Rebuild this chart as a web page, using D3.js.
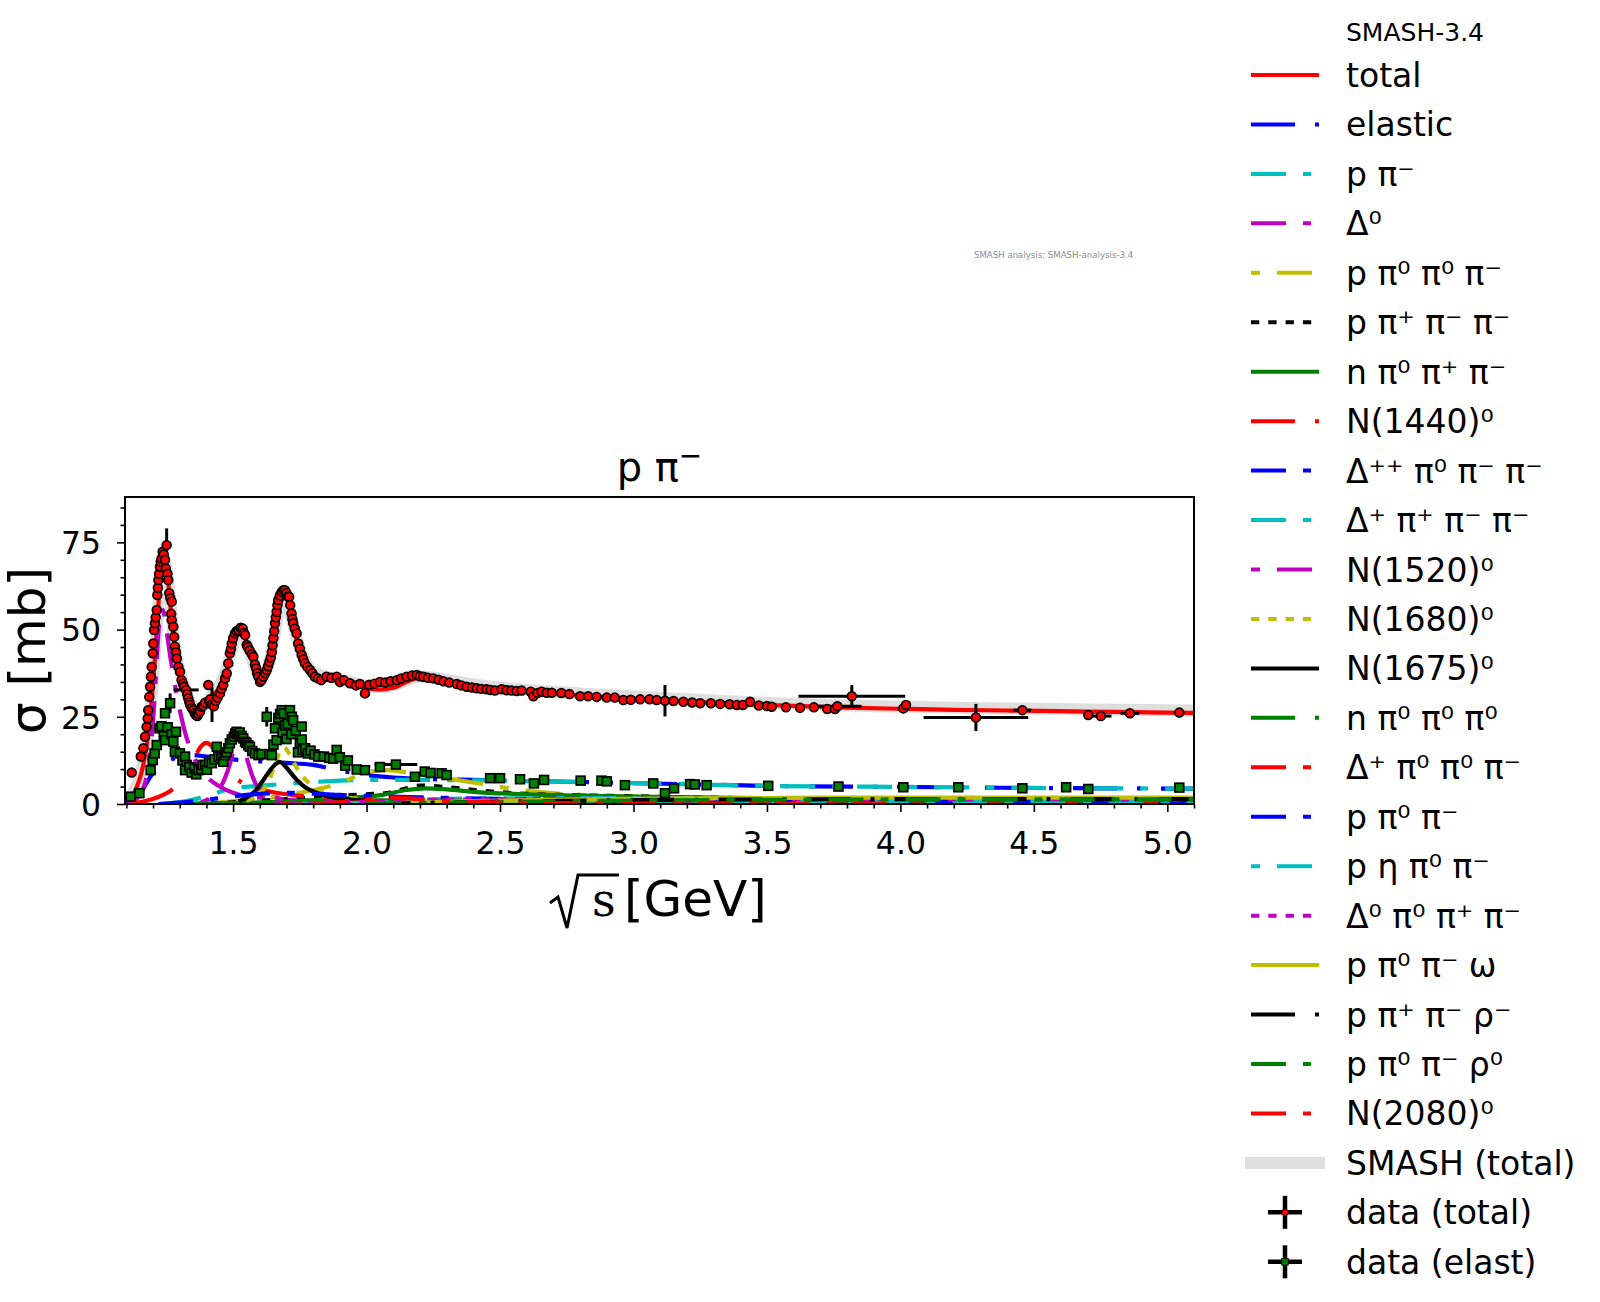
<!DOCTYPE html>
<html>
<head>
<meta charset="utf-8">
<title>p π⁻ cross sections</title>
<script src="https://cdn.jsdelivr.net/npm/d3@7"></script>
<style>
  body { margin: 0; background: #fff; }
  svg { display: block; font-family: "DejaVu Sans", sans-serif; }
</style>
</head>
<body>
<div id="main"></div>
<script>
const width = 1600;
const height = 1302;
const plot = { left: 125, right: 1194, top: 497, bottom: 804 };

const xDomain = [1.095, 5.10];
const yDomain = [0, 88];
const xTicks = [1.5, 2.0, 2.5, 3.0, 3.5, 4.0, 4.5, 5.0];
const yTicks = [0, 25, 50, 75];

const plotTitle = "p π";
const legendTitle = "SMASH-3.4";
const versionNote = "SMASH analysis: SMASH-analysis-3.4";

// model curves, [sqrt(s) GeV, sigma mb]
const totalCurve = [[1.10,0.5],[1.12,2],[1.14,5],[1.16,10],[1.18,19],[1.195,30],[1.21,45],[1.22,57],[1.23,66],[1.238,70.5],[1.245,70],[1.255,65],[1.265,57],[1.275,49],[1.29,41],[1.31,35],[1.33,30.5],[1.35,27.5],[1.37,26.5],[1.39,27.5],[1.41,29.5],[1.43,31.5],[1.45,33.5],[1.47,37],[1.49,42.5],[1.51,47.5],[1.525,49.5],[1.54,48.5],[1.56,44],[1.58,39],[1.60,36],[1.62,37],[1.64,41.5],[1.66,50],[1.68,58],[1.69,60],[1.705,58.5],[1.72,53],[1.74,46.5],[1.76,42],[1.78,39],[1.80,37.5],[1.85,36],[1.90,35.3],[1.95,34.3],[2.00,33.2],[2.05,32.8],[2.10,33.3],[2.15,35],[2.20,36.2],[2.25,36],[2.30,35.2],[2.40,33.8],[2.50,32.8],[2.60,32.1],[2.80,31.1],[3.00,30.2],[3.20,29.4],[3.40,28.7],[3.60,28.1],[3.80,27.6],[4.00,27.3],[4.20,27.0],[4.40,26.8],[4.60,26.6],[4.80,26.4],[5.00,26.2],[5.10,26.1]];
const smashTotalCurve = [[1.10,0.8],[1.12,2.5],[1.14,5.5],[1.16,11],[1.18,20],[1.195,31],[1.21,46],[1.22,57.5],[1.23,66],[1.238,70],[1.245,69.5],[1.255,65],[1.265,58],[1.275,50],[1.29,42],[1.31,35.5],[1.33,31],[1.35,28],[1.37,27],[1.39,28],[1.41,30],[1.43,32],[1.45,34],[1.47,37.5],[1.49,43],[1.51,47.5],[1.525,49],[1.54,48],[1.56,44],[1.58,39.5],[1.60,36.5],[1.62,37.5],[1.64,42],[1.66,50.5],[1.68,58],[1.69,59.5],[1.705,58],[1.72,53],[1.74,47],[1.76,42.5],[1.78,39.5],[1.80,38],[1.85,36.5],[1.90,35.8],[1.95,34.8],[2.00,33.8],[2.05,33.5],[2.10,34],[2.15,35.5],[2.20,36.5],[2.25,36.3],[2.30,35.6],[2.40,34.3],[2.50,33.4],[2.60,32.7],[2.80,31.7],[3.00,30.8],[3.20,30.0],[3.40,29.3],[3.60,28.7],[3.80,28.2],[4.00,27.9],[4.20,27.6],[4.40,27.4],[4.60,27.2],[4.80,27.0],[5.00,26.9],[5.10,26.8]];
const elasticCurve = [[1.10,0.2],[1.13,1.5],[1.16,4],[1.19,7.8],[1.22,10.5],[1.26,12.5],[1.30,13.5],[1.35,14],[1.40,13.6],[1.45,13.2],[1.50,12.8],[1.60,12.2],[1.70,11.8],[1.80,11.2],[1.90,9.6],[2.00,8.3],[2.10,7.6],[2.20,7.2],[2.35,7.0],[2.50,6.8],[2.80,6.3],[3.00,6.0],[3.30,5.5],[3.50,5.2],[4.00,4.9],[4.50,4.6],[5.10,4.4]];
const pPimCurve = [[1.25,0.2],[1.32,0.8],[1.40,2.2],[1.45,3.5],[1.50,4.5],[1.60,5.2],[1.70,5.8],[1.80,6.3],[1.90,6.7],[2.00,6.9],[2.20,6.9],[2.50,6.7],[2.80,6.3],[3.00,6.0],[3.30,5.5],[3.50,5.2],[4.00,4.9],[4.50,4.6],[5.10,4.4]];
const delta0Curve = [[1.10,0.2],[1.13,1],[1.15,2.5],[1.17,6],[1.185,12],[1.20,24],[1.21,36],[1.22,49],[1.23,56],[1.24,55],[1.25,50],[1.265,42],[1.28,35],[1.30,27],[1.32,20.5],[1.35,14],[1.40,8],[1.45,5],[1.50,3.2],[1.60,1.8],[1.80,0.9],[2.00,0.5],[2.50,0.2],[3.00,0.1],[5.10,0.03]];
const pPi0Pi0PimCurve = [[1.35,0],[1.45,0.5],[1.60,1.5],[1.75,3.2],[1.90,6],[2.00,9],[2.08,9.7],[2.16,8.9],[2.25,7.9],[2.33,7.0],[2.46,5.4],[2.55,4.3],[2.65,3.4],[2.85,2.5],[3.00,2.2],[3.30,1.7],[3.60,1.4],[4.00,1.2],[4.50,1.0],[5.10,0.8]];
const pPipPimPimCurve = [[1.35,0],[1.50,0.5],[1.70,1.4],[1.90,2.4],[2.00,2.8],[2.075,3.1],[2.14,4.3],[2.20,5.3],[2.30,4.8],[2.46,3.6],[2.60,2.9],[2.80,2.5],[3.00,2.2],[3.50,1.6],[4.00,1.3],[5.10,1.0]];
const nPi0PipPimCurve = [[1.35,0],[1.55,0.3],[1.75,0.9],[1.95,1.8],[2.06,2.6],[2.15,4.0],[2.22,4.5],[2.30,4.2],[2.40,3.5],[2.55,2.9],[2.80,2.4],[3.00,2.1],[3.50,1.7],[4.00,1.4],[5.10,1.0]];
const n1440Curve = [[1.12,0.2],[1.18,1],[1.22,2],[1.26,3.5],[1.30,6],[1.33,9.5],[1.36,14],[1.38,16.5],[1.40,17.5],[1.42,16.5],[1.44,14],[1.47,10.5],[1.50,8],[1.55,5.5],[1.60,4.2],[1.70,2.8],[1.80,2],[1.90,1.5],[2.00,1.1],[2.50,0.5],[3.00,0.25],[4.00,0.1],[5.10,0.05]];
const deltaPPPi0PimPimCurve = [[1.65,0],[1.80,0.2],[2.00,0.6],[2.20,1.0],[2.50,1.3],[3.00,1.4],[3.50,1.35],[4.00,1.25],[5.10,1.05]];
const deltaPPipPimPimCurve = [[1.65,0],[1.80,0.3],[2.00,0.8],[2.20,1.3],[2.50,1.6],[3.00,1.7],[3.50,1.6],[4.00,1.5],[5.10,1.25]];
const n1520Curve = [[1.38,0.5],[1.42,2],[1.45,4.5],[1.47,7.5],[1.49,12],[1.505,16.5],[1.515,19],[1.525,19.5],[1.535,18],[1.55,13.5],[1.57,8.5],[1.59,5],[1.62,3],[1.66,1.8],[1.72,1.1],[1.80,0.7],[2.00,0.35],[2.50,0.1],[3.00,0.05]];
const n1680Curve = [[1.55,1],[1.60,3],[1.63,6],[1.655,11],[1.675,15],[1.69,16.2],[1.71,14.5],[1.73,11.5],[1.76,8],[1.80,5],[1.85,3.2],[1.90,2.2],[2.00,1.3],[2.20,0.6],[2.60,0.2],[3.00,0.1]];
const n1675Curve = [[1.52,0.8],[1.55,1.8],[1.58,3.5],[1.61,6.5],[1.64,9.8],[1.66,11.5],[1.675,12.1],[1.69,11.3],[1.71,9.5],[1.74,6.8],[1.77,4.8],[1.80,3.6],[1.85,2.3],[1.90,1.6],[2.00,0.9],[2.20,0.4],[2.60,0.15],[3.00,0.08]];
const nPi0Pi0Pi0Curve = [[1.35,0],[1.50,0.2],[1.70,0.5],[1.90,0.8],[2.10,1.0],[2.40,1.0],[3.00,0.8],[4.00,0.6],[5.10,0.5]];
const deltaPPi0Pi0PimCurve = [[1.65,0],[1.80,0.2],[2.00,0.5],[2.20,0.8],[2.50,1.0],[3.00,1.1],[4.00,1.0],[5.10,0.85]];
const pPi0PimCurve = [[1.22,0],[1.30,0.4],[1.40,1.2],[1.50,2.2],[1.60,2.9],[1.70,3.2],[1.80,3.0],[1.90,2.6],[2.00,2.3],[2.20,1.9],[2.50,1.5],[3.00,1.2],[4.00,0.9],[5.10,0.75]];
const pEtaPi0PimCurve = [[1.76,0],[1.90,0.2],[2.10,0.5],[2.40,0.8],[2.80,0.95],[3.50,0.9],[4.50,0.8],[5.10,0.75]];
const delta0Pi0PipPimCurve = [[1.65,0],[1.80,0.2],[2.00,0.7],[2.20,1.1],[2.50,1.4],[3.00,1.5],[3.50,1.45],[4.50,1.3],[5.10,1.2]];
const pPi0PimOmegaCurve = [[2.00,0],[2.15,0.3],[2.40,0.8],[2.80,1.3],[3.20,1.6],[3.80,1.8],[4.50,1.85],[5.10,1.8]];
const pPipPimRhoMCurve = [[2.00,0],[2.20,0.3],[2.50,0.7],[3.00,1.1],[3.50,1.3],[4.00,1.4],[5.10,1.4]];
const pPi0PimRho0Curve = [[2.00,0],[2.20,0.25],[2.50,0.6],[3.00,1.0],[3.50,1.2],[4.00,1.3],[5.10,1.3]];
const n2080Curve = [[1.80,0.1],[1.90,0.5],[2.00,1.2],[2.08,1.8],[2.15,1.7],[2.25,1.1],[2.40,0.6],[2.70,0.25],[3.00,0.12],[4.00,0.04]];

const channelLabels = ["total", "elastic", "p π⁻", "Δ⁰", "p π⁰ π⁰ π⁻", "p π⁺ π⁻ π⁻",
  "n π⁰ π⁺ π⁻", "N(1440)⁰", "Δ⁺⁺ π⁰ π⁻ π⁻", "Δ⁺ π⁺ π⁻ π⁻", "N(1520)⁰", "N(1680)⁰",
  "N(1675)⁰", "n π⁰ π⁰ π⁰", "Δ⁺ π⁰ π⁰ π⁻", "p π⁰ π⁻", "p η π⁰ π⁻", "Δ⁰ π⁰ π⁺ π⁻",
  "p π⁰ π⁻ ω", "p π⁺ π⁻ ρ⁻", "p π⁰ π⁻ ρ⁰", "N(2080)⁰"];
const channelCurves = [totalCurve, elasticCurve, pPimCurve, delta0Curve, pPi0Pi0PimCurve,
  pPipPimPimCurve, nPi0PipPimCurve, n1440Curve, deltaPPPi0PimPimCurve, deltaPPipPimPimCurve,
  n1520Curve, n1680Curve, n1675Curve, nPi0Pi0Pi0Curve, deltaPPi0Pi0PimCurve, pPi0PimCurve,
  pEtaPi0PimCurve, delta0Pi0PipPimCurve, pPi0PimOmegaCurve, pPipPimRhoMCurve,
  pPi0PimRho0Curve, n2080Curve];

// measured data, [sqrt(s), sigma, yerr, xerr]
const totalData = [[1.120,9.0],[1.154,13.6],[1.164,16.0],[1.170,19.3],[1.176,22.1],[1.180,24.5],[1.182,26.9],[1.186,30.7],[1.189,33.6],[1.192,36.5],[1.195,39.3],[1.199,43.2],[1.201,46.0],[1.204,49.9],[1.207,51.8],[1.210,53.5],[1.214,55.6],[1.216,59.9],[1.218,62.0],[1.220,64.2],[1.223,66.0],[1.226,68.0],[1.229,69.5],[1.232,70.4],[1.236,72.3],[1.240,71.5],[1.245,70.0],[1.251,74.2,4.8],[1.248,67.5],[1.254,66.0],[1.257,64.2],[1.261,60.4],[1.265,59.0],[1.270,58.0],[1.268,54.5],[1.270,52.7],[1.276,50.8],[1.279,47.9],[1.282,45.1],[1.286,43.5],[1.289,41.7],[1.295,39.3],[1.301,37.9],[1.307,35.5],[1.312,34.5],[1.316,33.6],[1.324,32.7,0,0.047],[1.328,31.5],[1.332,30.3],[1.336,29.2],[1.339,28.4],[1.345,27.5],[1.351,26.9],[1.356,26.0],[1.361,25.5],[1.366,25.2],[1.370,25.8],[1.376,26.5],[1.382,27.9],[1.388,28.2],[1.395,29.0],[1.407,34.1],[1.410,29.5],[1.414,30.0],[1.421,28.5,5],[1.428,28.0],[1.435,29.5],[1.442,30.5],[1.451,31.7],[1.457,33.0],[1.463,34.1],[1.470,36.0],[1.476,37.4],[1.482,40.3],[1.488,43.2],[1.492,44.5],[1.495,46.0],[1.500,47.5],[1.507,48.9],[1.513,49.5],[1.520,49.9],[1.528,50.5],[1.536,50.3],[1.541,49.0],[1.545,48.4],[1.551,45.6],[1.555,45.0],[1.562,44.0],[1.570,43.0],[1.576,42.2],[1.582,40.0],[1.586,38.9],[1.590,37.5],[1.595,36.5],[1.601,35.0],[1.607,35.5],[1.613,36.5],[1.620,37.5],[1.626,38.4],[1.631,39.5],[1.636,40.8],[1.641,42.0],[1.645,43.6],[1.648,45.5],[1.651,47.5],[1.654,49.5],[1.657,51.8],[1.660,53.5],[1.663,55.1],[1.666,57.0],[1.669,58.5],[1.675,59.8],[1.682,60.8],[1.688,61.3],[1.694,61.3],[1.700,60.5],[1.705,59.5],[1.710,59.4],[1.714,57.0],[1.719,54.6],[1.722,53.0],[1.725,51.8],[1.731,50.3],[1.738,48.9],[1.744,46.0],[1.750,44.5],[1.757,42.7],[1.763,41.5],[1.769,40.3],[1.778,39.3],[1.788,38.4],[1.797,37.5],[1.806,36.5],[1.818,36.0],[1.830,35.5],[1.850,36.5],[1.868,36.2],[1.888,36.5],[1.900,35.0,1.5],[1.915,35.5],[1.938,34.6],[1.960,34.0],[1.975,34.4],[1.994,31.7],[2.010,34.2],[2.030,34.5],[2.050,35.0],[2.070,34.8],[2.090,35.2],[2.113,35.5],[2.130,36.0],[2.150,36.5],[2.170,36.8],[2.188,37.0],[2.200,36.6],[2.213,36.5],[2.230,36.2],[2.250,36.0],[2.270,35.6],[2.288,35.2],[2.310,34.8],[2.338,34.4],[2.355,34.0],[2.375,33.6],[2.395,33.4],[2.413,33.2],[2.430,33.0],[2.450,32.9],[2.465,32.7],[2.481,32.5],[2.506,32.9],[2.525,32.6],[2.543,32.5],[2.562,32.4],[2.581,32.5],[2.615,32.2],[2.625,30.9],[2.640,31.8],[2.656,32.2],[2.675,31.9],[2.694,31.9],[2.730,31.8],[2.760,31.5],[2.800,30.9],[2.830,30.9],[2.862,30.7],[2.900,30.5],[2.930,30.5],[2.962,29.8],[2.990,29.9],[3.025,30.0],[3.060,30.0],[3.087,29.8],[3.118,29.6,4.5],[3.150,29.5],[3.187,29.3],[3.220,29.1],[3.250,28.9],[3.290,28.9],[3.325,28.7],[3.360,28.6],[3.387,28.4],[3.410,28.4],[3.437,29.3],[3.470,28.2],[3.500,28.1],[3.518,27.9],[3.571,27.7],[3.624,27.6],[3.676,27.7],[3.726,27.2],[3.755,27.2],[3.764,28.0,0,0.09],[3.818,30.9,3.2,0.2],[4.011,27.4],[4.021,28.4],[4.283,24.8,3.9,0.196],[4.457,26.9,0,0.033],[4.704,25.5],[4.751,25.2,0,0.04],[4.860,26.0,0,0.035],[5.045,26.2]];
const elasticData = [[1.116,2.1],[1.149,3.1],[1.191,9.7],[1.199,12.6],[1.206,14.5],[1.214,16.9],[1.224,21.7],[1.232,22.3],[1.240,19.5],[1.245,18.3],[1.245,26.0],[1.264,28.9,2.8],[1.255,22.0],[1.270,20.0],[1.276,17.9],[1.282,15.0],[1.286,20.7],[1.301,14.5],[1.310,12.5],[1.320,13.6],[1.326,11.2],[1.320,9.7],[1.336,10.6],[1.345,9.0],[1.355,10.2],[1.362,8.5],[1.370,9.7],[1.380,10.0],[1.385,11.2],[1.395,11.2],[1.402,9.8],[1.410,12.0],[1.420,11.7],[1.430,12.8],[1.439,16.4],[1.445,13.5],[1.455,13.0],[1.463,12.1],[1.470,14.0],[1.475,14.8],[1.482,16.0],[1.488,17.4],[1.495,18.5],[1.503,19.3],[1.508,20.2],[1.513,20.7],[1.520,20.0],[1.525,20.5],[1.532,19.5],[1.538,18.8],[1.545,17.8],[1.550,17.5],[1.557,16.8],[1.563,16.4],[1.572,15.2],[1.582,14.5],[1.595,14.0],[1.607,14.3],[1.626,25.0,2.8],[1.635,14.3],[1.645,14.0],[1.651,17.0],[1.657,21.7],[1.663,18.3],[1.669,24.7],[1.676,25.8],[1.682,26.9],[1.685,20.5],[1.690,26.0],[1.695,22.5],[1.700,18.6],[1.705,23.0],[1.713,26.9],[1.718,20.0],[1.720,25.0],[1.725,24.0],[1.735,21.0],[1.743,14.8],[1.750,17.5],[1.757,22.2],[1.757,18.5],[1.760,15.5],[1.770,16.0],[1.780,14.5],[1.790,15.3],[1.805,14.2],[1.819,13.6],[1.840,13.6],[1.860,13.2],[1.875,13.0],[1.888,15.5],[1.900,13.4],[1.920,11.0],[1.930,12.5],[1.963,9.9],[1.994,9.7],[2.050,10.6],[2.110,11.3,1.2,0.08],[2.181,7.8],[2.218,9.3],[2.240,8.9],[2.281,8.8],[2.300,8.3],[2.463,7.4],[2.500,7.4],[2.575,7.1],[2.627,5.9],[2.665,6.9],[2.802,6.7],[2.880,6.7],[2.900,6.5],[2.968,5.4],[3.074,5.9],[3.118,3.1],[3.152,4.5],[3.212,5.7],[3.230,5.6],[3.274,5.4],[3.505,5.2],[3.768,5.0],[4.011,4.8],[4.217,4.8],[4.457,4.5],[4.621,4.8],[4.704,4.3],[5.045,4.7]];

const colorCycle = ["#ff0000", "#0000ff", "#00bfbf", "#bf00bf", "#bfbf00", "#000000", "#008000"];
const dashCycle = [null, "44 20 4 20", "35 17 8 17", "35 17 8 17", "9 17 35 17", "8.3 9"];

const svg = d3
    .select("#main")
    .append("svg")
    .attr("width", width)
    .attr("height", height);

const x = d3.scaleLinear().domain(xDomain).range([plot.left, plot.right]);
const y = d3.scaleLinear().domain(yDomain).range([plot.bottom, plot.top]);

svg.append("clipPath")
    .attr("id", "plot-clip")
    .append("rect")
    .attr("x", plot.left)
    .attr("y", plot.top)
    .attr("width", plot.right - plot.left)
    .attr("height", plot.bottom - plot.top);

const line = d3.line()
    .x(d => x(d[0]))
    .y(d => y(d[1]))
    .curve(d3.curveMonotoneX);

const area = svg.append("g").attr("clip-path", "url(#plot-clip)");

// grey SMASH band drawn underneath everything
area.append("path")
    .datum(smashTotalCurve)
    .attr("d", line)
    .attr("fill", "none")
    .attr("stroke", "#dedede")
    .attr("stroke-width", 12)
    .attr("stroke-linejoin", "round");

channelCurves.forEach((curve, i) => {
    area.append("path")
        .datum(curve)
        .attr("d", line)
        .attr("fill", "none")
        .attr("stroke", colorCycle[i % 7])
        .attr("stroke-width", 4.2)
        .attr("stroke-dasharray", dashCycle[i % 6])
        .attr("stroke-linejoin", "round");
});

// data with error bars
const drawErrors = data => {
    const bars = area.append("g")
        .attr("stroke", "#000")
        .attr("stroke-width", 3);
    data.forEach(d => {
        const ey = d[2] || 0;
        const ex = d[3] || 0;
        if (ey > 0) {
            bars.append("line")
                .attr("x1", x(d[0])).attr("x2", x(d[0]))
                .attr("y1", y(d[1] - ey)).attr("y2", y(d[1] + ey));
        }
        if (ex > 0) {
            bars.append("line")
                .attr("x1", x(d[0] - ex)).attr("x2", x(d[0] + ex))
                .attr("y1", y(d[1])).attr("y2", y(d[1]));
        }
    });
};

drawErrors(totalData);
area.append("g")
    .selectAll("circle")
    .data(totalData)
    .join("circle")
    .attr("cx", d => x(d[0]))
    .attr("cy", d => y(d[1]))
    .attr("r", 4.4)
    .attr("fill", "#ff0000")
    .attr("stroke", "#000")
    .attr("stroke-width", 1.7);

drawErrors(elasticData);
area.append("g")
    .selectAll("rect")
    .data(elasticData)
    .join("rect")
    .attr("x", d => x(d[0]) - 4.4)
    .attr("y", d => y(d[1]) - 4.4)
    .attr("width", 8.8)
    .attr("height", 8.8)
    .attr("fill", "#008000")
    .attr("stroke", "#000")
    .attr("stroke-width", 1.7);

// axes
const xMinor = d3.range(11, 52).map(i => i / 10).filter(v => v % 0.5 !== 0 && v >= xDomain[0] && v <= xDomain[1]);
const yMinor = d3.range(0, 90, 5).filter(v => v % 25 !== 0);

const styleAxis = g => {
    g.select(".domain").remove();
    g.selectAll(".tick line").attr("stroke-width", 1.6);
    g.attr("font-family", "DejaVu Sans").attr("font-size", 31.5);
    g.selectAll(".tick text").attr("fill", "#000");
};

svg.append("g")
    .attr("transform", `translate(0,${plot.bottom})`)
    .call(d3.axisBottom(x).tickValues(xMinor).tickSize(4.5).tickFormat(""))
    .call(styleAxis);
svg.append("g")
    .attr("transform", `translate(0,${plot.bottom})`)
    .call(d3.axisBottom(x).tickValues(xTicks).tickSize(8).tickPadding(19.6).tickFormat(d3.format(".1f")))
    .call(styleAxis);
svg.append("g")
    .attr("transform", `translate(${plot.left},0)`)
    .call(d3.axisLeft(y).tickValues(yMinor).tickSize(4.5).tickFormat(""))
    .call(styleAxis);
svg.append("g")
    .attr("transform", `translate(${plot.left},0)`)
    .call(d3.axisLeft(y).tickValues(yTicks).tickSize(8).tickPadding(16))
    .call(styleAxis)
    .call(g => g.selectAll(".tick text").attr("dy", "0.36em"));

svg.append("rect")
    .attr("x", plot.left)
    .attr("y", plot.top)
    .attr("width", plot.right - plot.left)
    .attr("height", plot.bottom - plot.top)
    .attr("fill", "none")
    .attr("stroke", "#000")
    .attr("stroke-width", 2);

// title and axis labels
const title = svg.append("text")
    .attr("x", (plot.left + plot.right) / 2)
    .attr("y", 481)
    .attr("text-anchor", "middle")
    .style("font-size", "40px")
    .text(plotTitle);
title.append("tspan")
    .attr("dy", -16)
    .style("font-size", "28px")
    .text("−");

svg.append("text")
    .attr("transform", `translate(45,${(plot.top + plot.bottom) / 2}) rotate(-90)`)
    .attr("text-anchor", "middle")
    .style("font-size", "50px")
    .text("σ [mb]");

const xLabel = svg.append("g");
xLabel.append("path")
    .attr("d", "M550,903 L558,897 L567,928 L578,875 L619,875")
    .attr("fill", "none")
    .attr("stroke", "#000")
    .attr("stroke-width", 3)
    .attr("stroke-linejoin", "miter");
xLabel.append("text")
    .attr("x", 592)
    .attr("y", 916)
    .style("font-family", "'DejaVu Serif', serif")
    .style("font-size", "46px")
    .text("s");
xLabel.append("text")
    .attr("x", 624)
    .attr("y", 916)
    .style("font-size", "50px")
    .text("[GeV]");

svg.append("text")
    .attr("x", 974)
    .attr("y", 258)
    .attr("fill", "#8c8c8c")
    .style("font-size", "8.6px")
    .text(versionNote);

// legend
const legend = svg.append("g").attr("id", "legend");
const rowY = i => 75 + i * 49.45;
const handleX = [1251, 1319];
const labelX = 1346;

legend.append("text")
    .attr("x", 1415)
    .attr("y", 40.8)
    .attr("text-anchor", "middle")
    .style("font-size", "25px")
    .text(legendTitle);

channelLabels.forEach((label, i) => {
    legend.append("line")
        .attr("x1", handleX[0]).attr("x2", handleX[1])
        .attr("y1", rowY(i)).attr("y2", rowY(i))
        .attr("stroke", colorCycle[i % 7])
        .attr("stroke-width", 4)
        .attr("stroke-dasharray", dashCycle[i % 6]);
    legend.append("text")
        .attr("x", labelX)
        .attr("y", rowY(i) + 12)
        .style("font-size", "33px")
        .text(label);
});

const bandRow = channelLabels.length;
legend.append("line")
    .attr("x1", 1251).attr("x2", 1319)
    .attr("y1", rowY(bandRow)).attr("y2", rowY(bandRow))
    .attr("stroke", "#dedede")
    .attr("stroke-width", 12)
    .attr("stroke-linecap", "square");
legend.append("text")
    .attr("x", labelX)
    .attr("y", rowY(bandRow) + 12)
    .style("font-size", "33px")
    .text("SMASH (total)");

const dataRows = [
    { label: "data (total)", shape: "circle", fill: "#ff0000" },
    { label: "data (elast)", shape: "square", fill: "#008000" }
];
dataRows.forEach((row, k) => {
    const cy = rowY(bandRow + 1 + k);
    const cx = 1285;
    const g = legend.append("g");
    g.append("line")
        .attr("x1", cx - 17).attr("x2", cx + 17)
        .attr("y1", cy).attr("y2", cy)
        .attr("stroke", "#000").attr("stroke-width", 4.5);
    g.append("line")
        .attr("x1", cx).attr("x2", cx)
        .attr("y1", cy - 16.5).attr("y2", cy + 16.5)
        .attr("stroke", "#000").attr("stroke-width", 4.5);
    if (row.shape === "circle") {
        g.append("circle")
            .attr("cx", cx).attr("cy", cy).attr("r", 3.3)
            .attr("fill", row.fill).attr("stroke", "#000").attr("stroke-width", 0.8);
    } else {
        g.append("rect")
            .attr("x", cx - 3.3).attr("y", cy - 3.3)
            .attr("width", 6.6).attr("height", 6.6)
            .attr("fill", row.fill).attr("stroke", "#000").attr("stroke-width", 0.8);
    }
    legend.append("text")
        .attr("x", labelX)
        .attr("y", cy + 12)
        .style("font-size", "33px")
        .text(row.label);
});
</script>
</body>
</html>
